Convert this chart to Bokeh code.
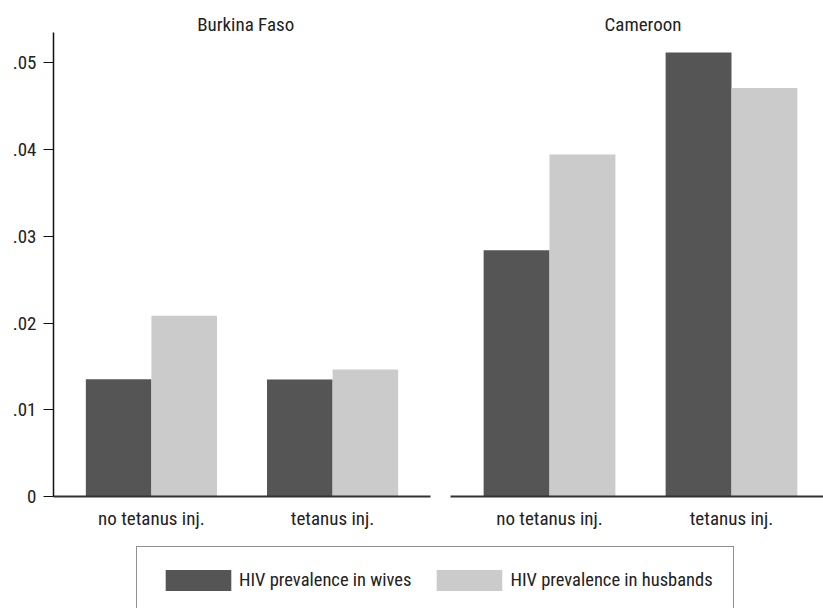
from bokeh.plotting import figure
from bokeh.models import Range1d, FixedTicker, Label, Legend, LegendItem, ColumnDataSource
from bokeh.transform import dodge
from bokeh.layouts import column, row
from bokeh.embed import file_html
from bokeh.resources import INLINE

# ---- data ----
countries = ["Burkina Faso", "Cameroon"]
categories = ["no tetanus inj.", "tetanus inj."]
series_names = ["HIV prevalence in wives", "HIV prevalence in husbands"]
bf_wives = [0.01353, 0.01350]
bf_husbands = [0.02085, 0.01465]
cm_wives = [0.02838, 0.05119]
cm_husbands = [0.03942, 0.04711]
y_ticks = [0, 0.01, 0.02, 0.03, 0.04, 0.05]
y_tick_labels = ["0", ".01", ".02", ".03", ".04", ".05"]

# ---- style ----
FONT = "'Liberation Sans Narrow', 'Roboto Condensed', 'Arial Narrow', sans-serif"
TXT = "#222222"
WIVES_C = "#555555"
HUSB_C = "#cbcbcb"
Y_AXIS_MAX = 0.0535
Y_TOP = 0.05673
BW = 0.362
FS = "19px"
LFS = "18.5px"


def panel(name, wv, hv, x_start, x_end, width, bl, br, show_y, title_dx):
    pos = [i + 1 for i in range(len(categories))]
    src = ColumnDataSource(dict(pos=pos, wives=wv, husbands=hv))
    p = figure(width=width, height=538,
               x_range=Range1d(x_start, x_end), y_range=Range1d(0, Y_TOP),
               output_backend="svg", toolbar_location=None,
               min_border_left=bl, min_border_right=br,
               min_border_top=4, min_border_bottom=42,
               y_axis_location="left" if show_y else None)
    p.vbar(x=dodge("pos", -BW / 2, range=p.x_range), top="wives", width=BW,
           source=src, fill_color=WIVES_C, line_color=None)
    p.vbar(x=dodge("pos", BW / 2, range=p.x_range), top="husbands", width=BW,
           source=src, fill_color=HUSB_C, line_color=None)
    p.outline_line_color = None
    p.grid.visible = False
    p.background_fill_color = "white"
    p.border_fill_color = "white"

    xa = p.xaxis[0]
    xa.ticker = FixedTicker(ticks=pos)
    xa.major_label_overrides = dict(zip(pos, categories))
    xa.major_tick_line_color = None
    xa.minor_tick_line_color = None
    xa.axis_line_width = 2
    xa.axis_line_color = "#333333"
    xa.major_label_standoff = 4
    xa.major_label_text_font = FONT
    xa.major_label_text_font_size = FS
    xa.major_label_text_color = TXT

    if show_y:
        ya = p.yaxis[0]
        ya.ticker = FixedTicker(ticks=y_ticks)
        ya.major_label_overrides = dict(zip(y_ticks, y_tick_labels))
        ya.bounds = (0, Y_AXIS_MAX)
        ya.major_tick_out = 10
        ya.major_tick_in = 0
        ya.minor_tick_line_color = None
        ya.axis_line_color = "#111111"
        ya.axis_line_width = 1.5
        ya.major_tick_line_color = "#111111"
        ya.major_label_standoff = 7
        ya.major_label_text_font = FONT
        ya.major_label_text_font_size = FS
        ya.major_label_text_color = TXT

    p.add_layout(Label(x=sum(pos) / len(pos), y=Y_AXIS_MAX, x_units="data", y_units="data",
                       text=name, text_align="center", text_baseline="alphabetic",
                       x_offset=title_dx, y_offset=8,
                       text_font=FONT, text_font_size=FS, text_color=TXT))
    return p


p1 = panel(countries[0], bf_wives, bf_husbands, 0.4595, 2.5405, 440, 53, 10, True, 3.7)
p2 = panel(countries[1], cm_wives, cm_husbands, 0.456, 2.5055, 383, 10, 0, False, 2.5)

lf = figure(width=823, height=70, x_range=Range1d(0, 1), y_range=Range1d(0, 1),
            output_backend="svg", toolbar_location=None, min_border=0,
            x_axis_location=None, y_axis_location=None)
lf.outline_line_color = None
lf.grid.visible = False
r1 = lf.vbar(x=[-10], top=[-10], width=0.1, fill_color=WIVES_C, line_color=None)
r2 = lf.vbar(x=[-10], top=[-10], width=0.1, fill_color=HUSB_C, line_color=None)
legend = Legend(items=[LegendItem(label=series_names[0], renderers=[r1]),
                       LegendItem(label=series_names[1], renderers=[r2])],
                location=(136, -6), orientation="horizontal",
                glyph_width=82, glyph_height=26, label_standoff=0, spacing=17,
                padding=20, margin=0, border_line_color="#222222", border_line_width=1,
                label_text_font=FONT, label_text_font_size=LFS, label_text_color=TXT,
                background_fill_color="white", background_fill_alpha=1)
lf.add_layout(legend)

layout = column(row(p1, p2), lf)
open("out.html", "w").write(file_html(layout, INLINE))
